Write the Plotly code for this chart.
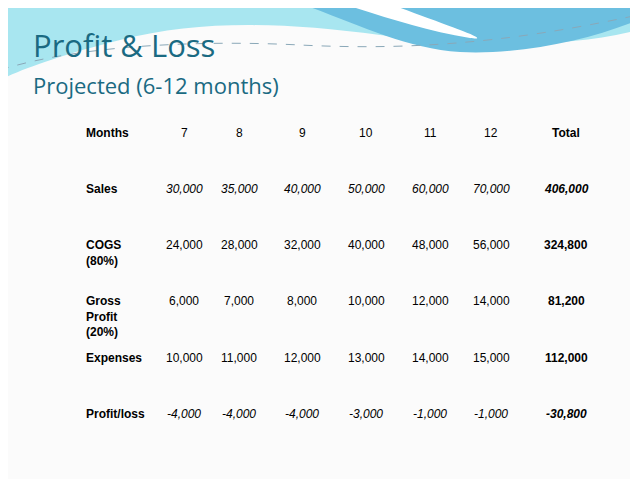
import plotly.graph_objects as go

months = ["7", "8", "9", "10", "11", "12", "Total"]
row_labels = ["Sales", "COGS<br>(80%)", "Gross<br>Profit<br>(20%)", "Expenses", "Profit/loss"]
sales = [30000, 35000, 40000, 50000, 60000, 70000, 406000]
cogs = [24000, 28000, 32000, 40000, 48000, 56000, 324800]
gross = [6000, 7000, 8000, 10000, 12000, 14000, 81200]
expenses = [10000, 11000, 12000, 13000, 14000, 15000, 112000]
profit = [-4000, -4000, -4000, -3000, -1000, -1000, -30800]
rows = [sales, cogs, gross, expenses, profit]
italic_rows = {0, 4}

col_x = [184, 239, 302, 366, 430, 491, 566]
row_y = [188, 244, 300, 357, 413]
label_x = 84
header_y = 133

fig = go.Figure()
F = dict(family="Liberation Sans, Arial", size=12, color="#000000")
ann = []
ann.append(dict(x=label_x, y=header_y, text="<b>Months</b>", xanchor="left", yanchor="middle", font=F))
for i, m in enumerate(months):
    t = f"<b>{m}</b>" if m == "Total" else m
    ann.append(dict(x=col_x[i], y=header_y, text=t, xanchor="center", yanchor="middle", font=F))
for r, (lab, vals) in enumerate(zip(row_labels, rows)):
    ann.append(dict(x=label_x, y=row_y[r] - 8, text=f"<b>{lab}</b>", xanchor="left", yanchor="top", align="left", font=F))
    for i, v in enumerate(vals):
        t = f"{v:,}"
        if r in italic_rows:
            t = f"<i>{t}</i>"
        if i == len(vals) - 1:
            t = f"<b>{t}</b>"
        ann.append(dict(x=col_x[i], y=row_y[r] - 8, text=t, xanchor="center", yanchor="top", font=F))
ann.append(dict(x=31, y=45, text="Profit &amp; Loss", xanchor="left", yanchor="middle",
                font=dict(family="Open Sans, Noto Sans", size=31, color="#1a6a82")))
ann.append(dict(x=31, y=85, text="Projected (6-12 months)", xanchor="left", yanchor="middle",
                font=dict(family="Open Sans, Noto Sans", size=22, color="#1a6a82")))
for a in ann:
    a.update(xref="x", yref="y", showarrow=False)

shapes = [
    dict(type="path", path="M0,0 L638,0 L638,30 C560,50 470,45 380,35 C280,22 200,20 120,40 C60,55 20,70 0,80 Z",
         fillcolor="#a8e6f0", line=dict(width=0), layer="below"),
    dict(type="path", path="M290,0 L638,0 L638,20 C590,40 520,55 460,52 C400,48 350,20 290,0 Z",
         fillcolor="#6cbfe0", line=dict(width=0), layer="below"),
    dict(type="path", path="M330,0 C380,15 420,30 470,38 C500,42 430,20 380,0 Z",
         fillcolor="#ffffff", line=dict(width=0), layer="below"),
    dict(type="path", path="M0,70 C80,45 200,40 300,45 C400,50 500,45 638,15",
         line=dict(color="#8aa8b8", width=1, dash="dash"), layer="below"),
]

fig.update_layout(width=638, height=479, margin=dict(l=0, r=0, t=0, b=0),
                  paper_bgcolor="#fbfbfb", plot_bgcolor="#fbfbfb",
                  xaxis=dict(range=[8, 646], visible=False, fixedrange=True),
                  yaxis=dict(range=[487, 8], visible=False, fixedrange=True),
                  annotations=ann, shapes=shapes, showlegend=False)
fig.write_html("out.html")
